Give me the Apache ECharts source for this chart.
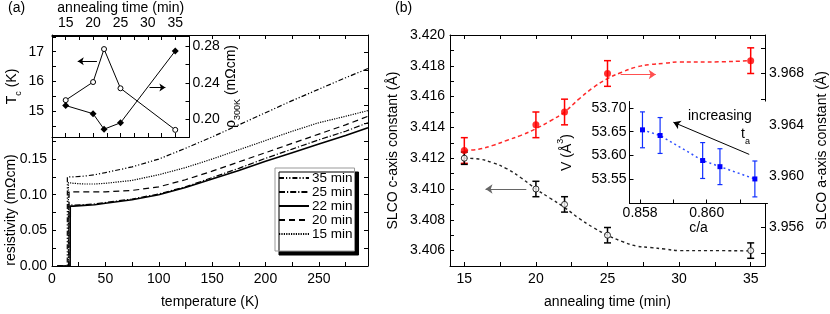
<!DOCTYPE html>
<html><head><meta charset="utf-8">
<script src="https://cdn.jsdelivr.net/npm/echarts@6/dist/echarts.min.js"></script>
<style>html,body{margin:0;padding:0;background:#fff}#c{width:830px;height:314px}</style>
</head><body><div id="c"></div>
<script>
// ---------- Panel (a) main: resistivity vs temperature ----------
const seriesNamesA = ['35 min', '25 min', '22 min', '20 min', '15 min'];
const temps35 = [5, 14.3, 14.4, 20, 30, 40, 50, 75, 100, 125, 150, 175, 200, 225, 250, 275, 296];
const rho35   = [0, 0, 0.125, 0.125, 0.126, 0.128, 0.131, 0.139, 0.150, 0.165, 0.181, 0.198, 0.215, 0.232, 0.248, 0.264, 0.277];
const temps25 = [5, 15.7, 15.8, 20, 30, 40, 50, 75, 100, 125, 150, 175, 200, 225, 250, 275, 296];
const rho25   = [0, 0, 0.086, 0.0855, 0.086, 0.087, 0.089, 0.094, 0.101, 0.111, 0.124, 0.137, 0.151, 0.164, 0.177, 0.189, 0.201];
const temps22 = [5, 17.0, 17.1, 20, 30, 40, 50, 75, 100, 125, 150, 175, 200, 225, 250, 275, 296];
const rho22   = [0, 0, 0.084, 0.084, 0.085, 0.086, 0.088, 0.093, 0.100, 0.110, 0.122, 0.134, 0.147, 0.159, 0.171, 0.183, 0.194];
const temps20 = [5, 15.9, 16.0, 20, 30, 40, 50, 75, 100, 125, 150, 175, 200, 225, 250, 275, 296];
const rho20   = [0, 0, 0.104, 0.104, 0.104, 0.104, 0.104, 0.106, 0.111, 0.121, 0.133, 0.146, 0.159, 0.172, 0.185, 0.198, 0.210];
const temps15 = [5, 15.3, 15.4, 20, 30, 40, 50, 75, 100, 125, 150, 175, 200, 225, 250, 275, 296];
const rho15   = [0, 0, 0.117, 0.116, 0.115, 0.115, 0.116, 0.120, 0.128, 0.138, 0.150, 0.163, 0.176, 0.189, 0.201, 0.210, 0.218];
const tempTicksA = [0, 25, 50, 75, 100, 125, 150, 175, 200, 225, 250, 275];
const tempLabelsA = [0, 50, 100, 150, 200, 250];
const rhoTicksA = [0, 0.025, 0.05, 0.075, 0.1, 0.125, 0.15, 0.175, 0.2, 0.225, 0.25, 0.275, 0.3];
const rhoLabelsA = [0, 0.05, 0.1, 0.15];

// ---------- Panel (a) inset: Tc and rho300K vs annealing time ----------
const annealInset = [15, 20, 22, 25, 35];
const tcValues = [15.37, 15.98, 17.09, 15.77, 14.37];
const rho300Values = [0.215, 0.206, 0.189, 0.196, 0.275];
const annealTicksInset = [15, 17.5, 20, 22.5, 25, 27.5, 30, 32.5, 35];
const annealLabelsInset = [15, 20, 25, 30, 35];
const tcTicks = [14.5, 15, 15.5, 16, 16.5, 17, 17.5];
const tcLabels = [15, 16, 17];
const rho300Ticks = [0.20, 0.22, 0.24, 0.26, 0.28];
const rho300Labels = [0.20, 0.24, 0.28];

// ---------- Panel (b) main: lattice constants vs annealing time ----------
const annealB = [15, 20, 22, 25, 35];
const cAxis = [3.4120, 3.4100, 3.4090, 3.4070, 3.4060];
const cErr = [0.0004, 0.0005, 0.0005, 0.0005, 0.0005];
const aAxis = [3.9620, 3.9640, 3.9650, 3.9680, 3.9690];
const aErr = [0.001, 0.001, 0.001, 0.001, 0.001];
const fitTimes = [15, 16, 17, 18, 19, 20, 21, 22, 23, 24, 25, 26, 27, 28, 29, 30, 32, 35];
const cFit = [3.4120, 3.41195, 3.4117, 3.4113, 3.4107, 3.4100, 3.4094, 3.4088, 3.4081, 3.4075, 3.4070, 3.4066, 3.4063, 3.4062, 3.4061, 3.4060, 3.4060, 3.40598];
const aFit = [3.9620, 3.9621, 3.9624, 3.9628, 3.9632, 3.9637, 3.9643, 3.9650, 3.9660, 3.9669, 3.9676, 3.9681, 3.9685, 3.9687, 3.9688, 3.9689, 3.9689, 3.9690];
const annealTicksB = [15, 17.5, 20, 22.5, 25, 27.5, 30, 32.5, 35];
const annealLabelsB = [15, 20, 25, 30, 35];
const cTicks = [3.405, 3.406, 3.407, 3.408, 3.409, 3.410, 3.411, 3.412, 3.413, 3.414, 3.415, 3.416, 3.417, 3.418, 3.419, 3.420];
const cLabels = [3.406, 3.408, 3.410, 3.412, 3.414, 3.416, 3.418, 3.420];
const aTicks = [3.954, 3.956, 3.958, 3.960, 3.962, 3.964, 3.966, 3.968, 3.970];
const aLabels = [3.956, 3.960, 3.964, 3.968];

// ---------- Panel (b) inset: volume vs c/a ----------
const caRatio = [0.85807, 0.85860, 0.85988, 0.86040, 0.86145];
const volume = [53.654, 53.642, 53.589, 53.576, 53.550];
const volErr = [0.038, 0.038, 0.038, 0.038, 0.038];
const caTicks = [0.858, 0.859, 0.860, 0.861];
const caLabels = [0.858, 0.860];
const volTicks = [53.55, 53.60, 53.65, 53.70];
const volLabels = [53.55, 53.60, 53.65, 53.70];

const FONT = '"Liberation Sans", Arial, Helvetica, sans-serif';
const zip = (a, b) => a.map((v, i) => [v, b[i]]);
const zip3 = (a, b, c) => a.map((v, i) => [v, b[i], c[i]]);

function mkAxis(o) {
  const a = {
    type: 'value', gridIndex: o.grid, position: o.pos, min: o.min, max: o.max, z: o.z || 1,
    splitLine: { show: false },
    axisLine: { show: true, onZero: false, lineStyle: { color: '#000', width: 1 } },
    axisTick: { show: true, inside: true, length: o.tl || 4, customValues: o.ticks, lineStyle: { color: '#000', width: 1 } },
    axisLabel: { show: !!o.labels, customValues: o.labels || [], margin: o.margin == null ? 5 : o.margin,
      color: '#000', fontFamily: FONT, fontSize: o.fs || 14, formatter: o.fmt }
  };
  if (o.name) {
    a.name = o.name; a.nameLocation = 'middle'; a.nameGap = o.nameGap;
    if (o.nameRotate != null) a.nameRotate = o.nameRotate;
    a.nameTextStyle = { color: '#000', fontFamily: FONT, fontSize: o.nfs || 14, rich: o.rich };
  }
  return a;
}

function errRender(color, cap, lw) {
  return function (params, api) {
    const x = api.value(0), y = api.value(1), e = api.value(2);
    const t = api.coord([x, y + e]), b = api.coord([x, y - e]);
    const st = { stroke: color, lineWidth: lw };
    return { type: 'group', children: [
      { type: 'line', shape: { x1: t[0], y1: t[1], x2: b[0], y2: b[1] }, style: st },
      { type: 'line', shape: { x1: t[0] - cap, y1: t[1], x2: t[0] + cap, y2: t[1] }, style: st },
      { type: 'line', shape: { x1: b[0] - cap, y1: b[1], x2: b[0] + cap, y2: b[1] }, style: st }
    ] };
  };
}

function arrow(color, from, to, size) {
  return { silent: true, symbol: ['none', 'arrow'], symbolSize: size || 7, animation: false,
    lineStyle: { color: color, type: 'solid', width: 1 }, label: { show: false },
    data: [[{ coord: from }, { coord: to }]] };
}

const chart = echarts.init(document.getElementById('c'), null, { renderer: 'canvas' });
const f2 = v => v.toFixed(2), f3 = v => v.toFixed(3), f0 = v => String(Math.round(v));

const subRich = { sub: { fontSize: 9, verticalAlign: 'bottom', padding: [0, 0, -4, 0], fontFamily: FONT, color: '#000' },
                  sup: { fontSize: 9, verticalAlign: 'top', padding: [-4, 0, 0, 0], fontFamily: FONT, color: '#000' } };

const lineStylesA = {
  '35 min': { type: [5, 2, 1.2, 2, 1.2, 2], width: 1.2 },
  '25 min': { type: [6, 2, 1.2, 2], width: 1.2 },
  '22 min': { type: 'solid', width: 1.6 },
  '20 min': { type: [6, 4], width: 1.2 },
  '15 min': { type: [1.2, 1.2], width: 1.2 }
};
const dataA = { '35 min': zip(temps35, rho35), '25 min': zip(temps25, rho25), '22 min': zip(temps22, rho22),
                '20 min': zip(temps20, rho20), '15 min': zip(temps15, rho15) };

const option = {
  animation: false,
  backgroundColor: '#fff',
  textStyle: { fontFamily: FONT },
  grid: [
    { left: 52, top: 35, width: 316, height: 233, show: false },
    { left: 52, top: 35, width: 137.5, height: 102, show: true, backgroundColor: '#fff', borderWidth: 0, z: 3 },
    { left: 450, top: 35, width: 317, height: 234, show: false },
    { left: 629.5, top: 101.5, width: 138, height: 102, show: true, backgroundColor: '#fff', borderWidth: 0, z: 3 }
  ],
  xAxis: [
    mkAxis({ grid: 0, pos: 'bottom', min: 0, max: 296, ticks: tempTicksA, labels: tempLabelsA, fmt: f0, margin: 6,
             name: 'temperature (K)', nameGap: 29 }),
    mkAxis({ grid: 0, pos: 'top', min: 0, max: 296, ticks: tempTicksA }),
    mkAxis({ grid: 1, pos: 'top', min: 12.5, max: 37.6, ticks: annealTicksInset, labels: annealLabelsInset, fmt: f0, margin: 6, z: 4,
             name: 'annealing time (min)', nameGap: 21 }),
    mkAxis({ grid: 1, pos: 'bottom', min: 12.5, max: 37.6, ticks: annealTicksInset, z: 4 }),
    mkAxis({ grid: 2, pos: 'bottom', min: 14, max: 36, ticks: annealTicksB, labels: annealLabelsB, fmt: f0, margin: 6,
             name: 'annealing time (min)', nameGap: 29 }),
    mkAxis({ grid: 2, pos: 'top', min: 14, max: 36, ticks: annealTicksB }),
    mkAxis({ grid: 3, pos: 'bottom', min: 0.85768, max: 0.86183, ticks: caTicks, labels: caLabels, fmt: f3, margin: 3, z: 4,
             name: 'c/a', nameGap: 18 })
  ],
  yAxis: [
    mkAxis({ grid: 0, pos: 'left', min: 0, max: 0.324, ticks: rhoTicksA, labels: rhoLabelsA, fmt: f2, margin: 5 }),
    mkAxis({ grid: 0, pos: 'right', min: 0, max: 0.324, ticks: rhoTicksA }),
    mkAxis({ grid: 1, pos: 'left', min: 14.13, max: 17.53, ticks: tcTicks, labels: tcLabels, fmt: f0, margin: 8, z: 4,
             name: 'T{sub|c} (K)', nameGap: 33, nameRotate: 90, rich: subRich }),
    mkAxis({ grid: 1, pos: 'right', min: 0.1804, max: 0.2914, ticks: rho300Ticks, labels: rho300Labels, fmt: f2, margin: 3, z: 4,
             name: 'ρ{sub|300K} (mΩcm)', nameGap: 21, nameRotate: 90, rich: subRich }),
    mkAxis({ grid: 2, pos: 'left', min: 3.405, max: 3.420, ticks: cTicks, labels: cLabels, fmt: f3, margin: 5,
             name: 'SLCO c-axis constant (Å)', nameGap: 50, nameRotate: 90 }),
    mkAxis({ grid: 2, pos: 'right', min: 3.953, max: 3.971, ticks: aTicks, labels: aLabels, fmt: f3, margin: 4,
             name: 'SLCO a-axis constant (Å)', nameGap: 50, nameRotate: 90 }),
    mkAxis({ grid: 3, pos: 'left', min: 53.498, max: 53.714, ticks: volTicks, labels: volLabels, fmt: f2, margin: 3, z: 4,
             name: 'V (Å{sup|3})', nameGap: 55, nameRotate: 90, rich: subRich })
  ],
  legend: {
    orient: 'vertical', left: 275, top: 168, selectedMode: false, data: seriesNamesA,
    itemWidth: 30, itemHeight: 12, itemGap: 0, padding: [3, 2, 10, 3],
    backgroundColor: '#fff', borderColor: '#999', borderWidth: 1, borderRadius: 0,
    shadowColor: '#000', shadowBlur: 0, shadowOffsetX: 4, shadowOffsetY: 4,
    itemStyle: { opacity: 0 },
    textStyle: { fontFamily: FONT, fontSize: 13.5, lineHeight: 14, height: 14, color: '#000', padding: [0, 0, 0, -2] }
  },
  graphic: [
    { type: 'text', left: 8, top: 1, style: { text: '(a)', font: '14px ' + FONT, fill: '#000' } },
    { type: 'text', left: 395, top: 1, style: { text: '(b)', font: '14px ' + FONT, fill: '#000' } },
    { type: 'text', x: 11, y: 210, rotation: Math.PI / 2,
      style: { text: 'resistivity (mΩcm)', font: '14px ' + FONT, fill: '#000', align: 'center', verticalAlign: 'middle' } },
    { type: 'text', left: 688, top: 109, z: 10, style: { text: 'increasing', font: '14px ' + FONT, fill: '#000' } },
    { type: 'text', left: 741, top: 127, z: 10, style: { text: 't{s|a}', font: '14px ' + FONT, fill: '#000',
      rich: { s: { fontSize: 9, verticalAlign: 'bottom', padding: [0, 0, -5, 0] } } } }
  ],
  series: [
    ...seriesNamesA.map(n => ({
      name: n, type: 'line', xAxisIndex: 0, yAxisIndex: 0, data: dataA[n], symbol: 'none', z: 2,
      lineStyle: Object.assign({ color: '#000' }, lineStylesA[n]), itemStyle: { color: '#000' }
    })),
    { name: 'Tc', type: 'line', xAxisIndex: 2, yAxisIndex: 2, data: zip(annealInset, tcValues), z: 5,
      symbol: 'circle', symbolSize: 5, lineStyle: { color: '#000', width: 1 },
      itemStyle: { color: '#fff', borderColor: '#000', borderWidth: 1 },
      markLine: arrow('#000', [20.7, 16.68], [17.2, 16.68], 6) },
    { name: 'rho300', type: 'line', xAxisIndex: 2, yAxisIndex: 3, data: zip(annealInset, rho300Values), z: 5,
      symbol: 'diamond', symbolSize: 7, lineStyle: { color: '#000', width: 1 }, itemStyle: { color: '#000' },
      markLine: arrow('#000', [30.3, 0.2348], [33.2, 0.2348], 6) },
    { name: 'aFit', type: 'line', xAxisIndex: 4, yAxisIndex: 5, data: zip(fitTimes, aFit), symbol: 'none', smooth: 0.4, z: 2,
      lineStyle: { color: '#ff2a2a', type: [4, 3], width: 1.5 },
      markLine: arrow('#ff5050', [25.92, 3.96792], [28.37, 3.96792], 7) },
    { name: 'cFit', type: 'line', xAxisIndex: 4, yAxisIndex: 4, data: zip(fitTimes, cFit), symbol: 'none', smooth: 0.4, z: 2,
      lineStyle: { color: '#222', type: [3, 3], width: 1.4 },
      markLine: arrow('#666', [19.33, 3.4100], [16.48, 3.4100], 7) },
    { name: 'aErr', type: 'custom', xAxisIndex: 4, yAxisIndex: 5, data: zip3(annealB, aAxis, aErr), z: 3,
      renderItem: errRender('#f00', 3.5, 1.5), encode: { x: 0, y: 1 } },
    { name: 'cErr', type: 'custom', xAxisIndex: 4, yAxisIndex: 4, data: zip3(annealB, cAxis, cErr), z: 3,
      renderItem: errRender('#000', 3.5, 1.5), encode: { x: 0, y: 1 } },
    { name: 'aPts', type: 'scatter', xAxisIndex: 4, yAxisIndex: 5, data: zip(annealB, aAxis), z: 4,
      symbol: 'circle', symbolSize: 7, itemStyle: { color: '#f00' } },
    { name: 'cPts', type: 'scatter', xAxisIndex: 4, yAxisIndex: 4, data: zip(annealB, cAxis), z: 4,
      symbol: 'circle', symbolSize: 6, itemStyle: { color: '#fff', borderColor: '#000', borderWidth: 1 } },
    { name: 'V', type: 'line', xAxisIndex: 6, yAxisIndex: 6, data: zip(caRatio, volume), z: 5,
      symbol: 'rect', symbolSize: 5, lineStyle: { color: '#3050ff', type: [2, 3], width: 1.5 }, itemStyle: { color: '#0000ff' },
      markLine: arrow('#000', [0.86128, 53.602], [0.85900, 53.670], 7) },
    { name: 'VErr', type: 'custom', xAxisIndex: 6, yAxisIndex: 6, data: zip3(caRatio, volume, volErr), z: 5,
      renderItem: errRender('#1030ff', 2.5, 1.2), encode: { x: 0, y: 1 } }
  ]
};
chart.setOption(option);
</script>
</body></html>
